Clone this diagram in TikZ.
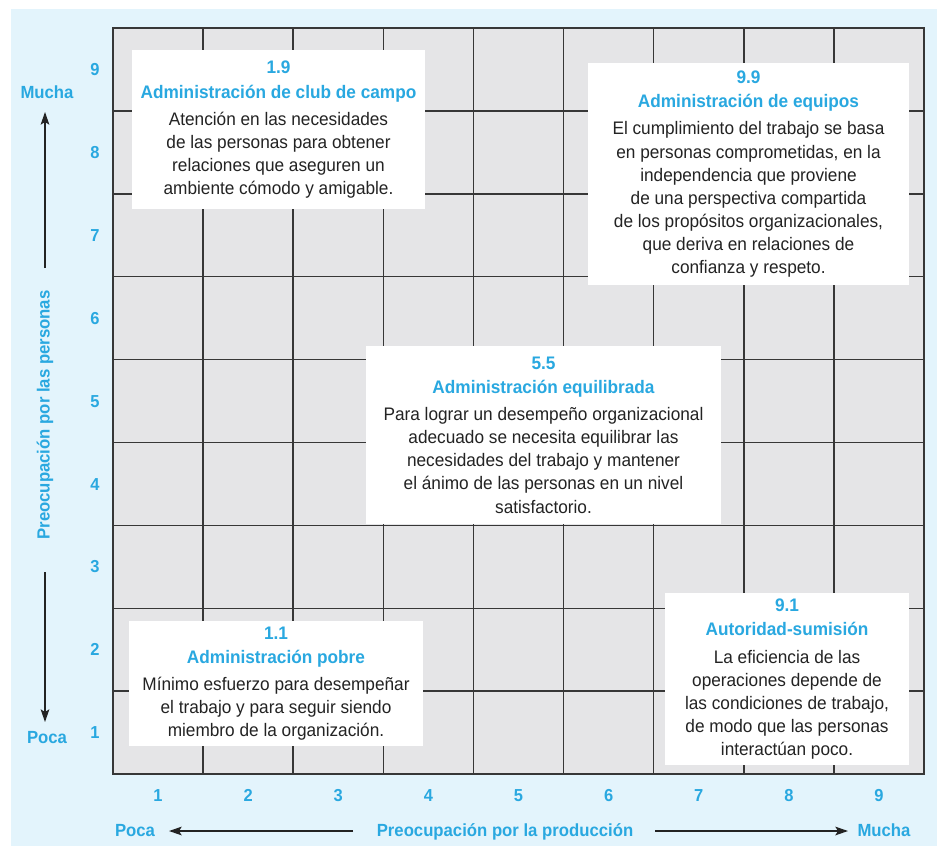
\documentclass[tikz,border=0pt]{standalone}
\usepackage{fontspec}
\setmainfont{Liberation Sans}[FakeStretch=0.95]
\usetikzlibrary{arrows.meta}
\definecolor{bgblue}{RGB}{227,244,252}
\definecolor{tblue}{RGB}{41,168,224}
\definecolor{cellgray}{RGB}{229,229,231}
\definecolor{linegray}{RGB}{55,55,55}
\definecolor{txt}{RGB}{35,35,35}
\newcommand{\ttlline}[1]{{\color{tblue}\bfseries #1}}
\begin{document}
\begin{tikzpicture}[x=0.75pt,y=-0.75pt,
  every node/.style={inner sep=0pt, outer sep=0pt},
  lbl/.style={text=tblue, font=\fontsize{13.2pt}{16pt}\selectfont\bfseries, text height=9.5pt, text depth=0pt},
  tick/.style={text=tblue, font=\fontsize{13pt}{15pt}\selectfont\bfseries, text height=9.3pt, text depth=0pt},
  infobox/.style={fill=white, text=txt, align=center, font=\fontsize{13.6pt}{17.3pt}\selectfont},
  axarrow/.style={draw=txt, line width=1.1pt, -{Stealth[length=9.5pt,width=6.5pt,inset=2pt]}},
  gridline/.style={draw=linegray, line width=1.1pt}
]
\useasboundingbox (0,0) rectangle (937,846);
\fill[white] (0,0) rectangle (937,846);
\fill[bgblue] (11,9) rectangle (937,846);
% grid
\fill[cellgray] (113,28) rectangle (924,774);
\foreach \i in {1,...,8} {
  \draw[gridline] ({113+\i*90.11},28) -- ({113+\i*90.11},774);
  \draw[gridline] (113,{28+\i*82.89}) -- (924,{28+\i*82.89});
}
\draw[gridline, line width=1.3pt] (113,28) rectangle (924,774);
% tick labels
\foreach \i in {1,...,9} {
  \node[tick] (ly\i) at (95,{774-(\i-0.5)*82.89}) {\i};
  \node[tick] (lx\i) at ({113+(\i-0.5)*90.11},795) {\i};
}
% boxes
\node[infobox, minimum width=219.75pt, minimum height=119.25pt] (b19) at (278.5,129.5)
{\ttlline{1.9}\\[1pt]\ttlline{Administración de club de campo}\\[3pt]
Atención en las necesidades\\ de las personas para obtener\\ relaciones que aseguren un\\ ambiente cómodo y amigable.};
\node[infobox, minimum width=240.75pt, minimum height=166.5pt] (b99) at (748.5,174)
{\ttlline{9.9}\\[1pt]\ttlline{Administración de equipos}\\[3pt]
El cumplimiento del trabajo se basa\\ en personas comprometidas, en la\\ independencia que proviene\\ de una perspectiva compartida\\ de los propósitos organizacionales,\\ que deriva en relaciones de\\ confianza y respeto.};
\node[infobox, minimum width=266.25pt, minimum height=133.5pt] (b55) at (543.5,435)
{\ttlline{5.5}\\[1pt]\ttlline{Administración equilibrada}\\[3pt]
Para lograr un desempeño organizacional\\ adecuado se necesita equilibrar las\\ necesidades del trabajo y mantener\\ el ánimo de las personas en un nivel\\ satisfactorio.};
\node[infobox, minimum width=220.5pt, minimum height=93.75pt] (b11) at (276,683.5)
{\ttlline{1.1}\\[1pt]\ttlline{Administración pobre}\\[3pt]
Mínimo esfuerzo para desempeñar\\ el trabajo y para seguir siendo\\ miembro de la organización.};
\node[infobox, minimum width=183pt, minimum height=129pt] (b91) at (787,679)
{\ttlline{9.1}\\[1pt]\ttlline{Autoridad-sumisión}\\[3pt]
La eficiencia de las\\ operaciones depende de\\ las condiciones de trabajo,\\ de modo que las personas\\ interactúan poco.};
% vertical axis
\node[lbl] (ytop) at (47,92) {Mucha};
\node[lbl] (ybot) at (47,737) {Poca};
\node[lbl, rotate=90, text height=10pt, text depth=3pt] (ytitle) at (45,415) {Preocupación por las personas};
\coordinate (yup1) at (45,268);
\coordinate (yup2) at (45,112);
\coordinate (ydn1) at (45,572);
\coordinate (ydn2) at (45,722);
\draw[axarrow] (yup1) -- (yup2);
\draw[axarrow] (ydn1) -- (ydn2);
% horizontal axis
\node[lbl] (xleft) at (135,830) {Poca};
\node[lbl] (xright) at (884,830) {Mucha};
\node[lbl] (xtitle) at (505,830) {Preocupación por la producción};
\coordinate (xl1) at (353,831);
\coordinate (xl2) at (169,831);
\coordinate (xr1) at (655,831);
\coordinate (xr2) at (848,831);
\draw[axarrow] (xl1) -- (xl2);
\draw[axarrow] (xr1) -- (xr2);
\end{tikzpicture}
\end{document}
